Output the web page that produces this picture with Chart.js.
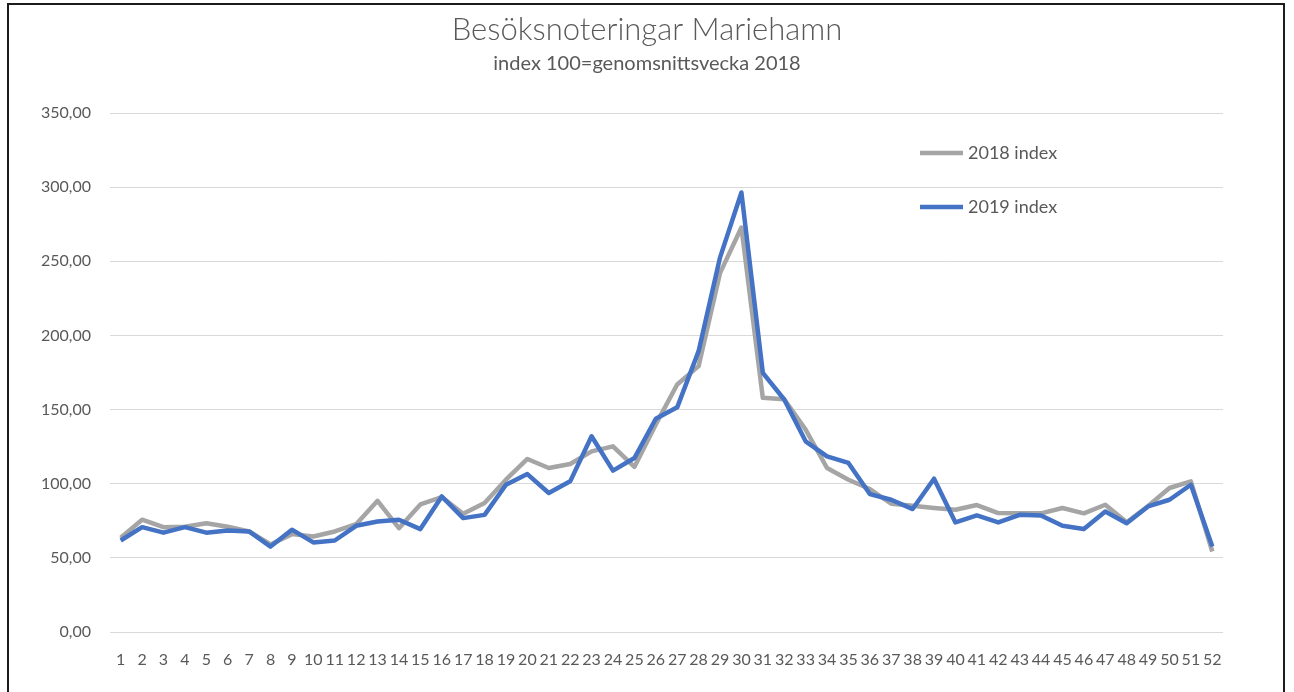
<!DOCTYPE html>
<html>
<head>
<meta charset="utf-8">
<script src="https://cdn.jsdelivr.net/npm/chart.js@4.4.1/dist/chart.umd.min.js"></script>
<style>
  html, body { margin: 0; padding: 0; background: #fff; }
  #wrap { position: relative; width: 1294px; height: 692px; overflow: hidden; }
  #frame { position: absolute; left: 7px; top: 3px; width: 1278px; height: 720px; border: 2px solid #1c1c1c; box-sizing: border-box; pointer-events: none; }
  canvas { position: absolute; left: 0; top: 0; }
</style>
</head>
<body>
<div id="wrap">
  <canvas id="c" width="1294" height="692"></canvas>
  <div id="frame"></div>
</div>
<script>
const chartTitle = "Besöksnoteringar Mariehamn";
const chartSubtitle = "index 100=genomsnittsvecka 2018";
const weeks = ["1","2","3","4","5","6","7","8","9","10","11","12","13","14","15","16","17","18","19","20","21","22","23","24","25","26","27","28","29","30","31","32","33","34","35","36","37","38","39","40","41","42","43","44","45","46","47","48","49","50","51","52"];
const seriesNames = ["2018 index", "2019 index"];
const index2018 = [63.5, 75.7, 70.7, 71, 73.4, 71, 67.8, 59, 66, 64.4, 67.8, 72.7, 88.5, 70, 86, 91, 79.7, 87, 102.7, 116.7, 110.6, 113.3, 121.8, 125.2, 111.3, 140, 166.9, 179.3, 242, 272.8, 157.9, 157, 136.5, 110.6, 102.7, 96.4, 86.5, 85.1, 83.6, 82.4, 85.6, 80.2, 80, 80, 83.6, 80, 85.8, 74, 85, 97.1, 101.6, 54.3];
const index2019 = [61.7, 70.7, 67, 70.7, 67, 68.5, 67.8, 57.6, 69, 60.4, 61.7, 71.6, 74.5, 75.7, 69.4, 91.4, 76.8, 79, 99.3, 106.5, 93.7, 101.6, 132, 108.8, 117.3, 143.8, 151.5, 189.4, 252.5, 296.4, 174.8, 156.8, 128.6, 118.4, 114, 93, 89.2, 82.9, 103.4, 73.9, 78.6, 73.9, 79, 78.6, 71.6, 69.4, 81.3, 73.4, 84.7, 89.2, 99.3, 57.6];
const yMin = 0, yMax = 350, yStep = 50;

const TEXT = '#595959';
const colors = ['#A5A5A5', '#4472C4'];

const legendPlugin = {
  id: 'insideLegend',
  afterDraw(chart) {
    const ctx = chart.ctx;
    const a = chart.chartArea;
    ctx.save();
    ctx.font = '18px Lato';
    ctx.textBaseline = 'middle';
    ctx.textAlign = 'left';
    chart.data.datasets.forEach((ds, i) => {
      const y = a.top + 40 + i * 54;
      const x = a.left + 810;
      ctx.strokeStyle = ds.borderColor;
      ctx.lineWidth = 4.5;
      ctx.lineCap = 'butt';
      ctx.beginPath();
      ctx.moveTo(x, y);
      ctx.lineTo(x + 43, y);
      ctx.stroke();
      ctx.fillStyle = TEXT;
      ctx.fillText(ds.label, x + 48, y);
    });
    ctx.restore();
  }
};

function build() {
  Chart.defaults.font.family = 'Lato';
  Chart.defaults.color = TEXT;
  new Chart(document.getElementById('c'), {
    type: 'line',
    data: {
      labels: weeks,
      datasets: [
        { label: seriesNames[0], data: index2018, borderColor: colors[0], backgroundColor: colors[0], borderWidth: 4.5, pointRadius: 0, tension: 0, order: 1, borderJoinStyle: 'round' },
        { label: seriesNames[1], data: index2019, borderColor: colors[1], backgroundColor: colors[1], borderWidth: 4.5, pointRadius: 0, tension: 0, order: 0, borderJoinStyle: 'round' }
      ]
    },
    options: {
      responsive: false,
      animation: false,
      layout: { padding: { left: 0, right: 0, top: 0, bottom: 0 } },
      plugins: {
        legend: { display: false },
        tooltip: { enabled: false },
        title: {
          display: true, text: chartTitle, color: TEXT,
          font: { size: 31, weight: '300', family: 'Lato' },
          padding: { top: 11, bottom: 2 }
        },
        subtitle: {
          display: true, text: chartSubtitle, color: TEXT,
          font: { size: 20, weight: 'normal', family: 'Lato' },
          padding: { top: 1, bottom: 37.8 }
        }
      },
      scales: {
        x: {
          offset: true,
          grid: { display: false, drawTicks: false, offset: true },
          border: { display: false },
          ticks: { autoSkip: false, maxRotation: 0, minRotation: 0, padding: 18, color: TEXT, font: { size: 16 } },
          afterFit: s => { s.height = 60; }
        },
        y: {
          min: yMin, max: yMax,
          grid: { color: '#D9D9D9', lineWidth: 1, drawTicks: false },
          border: { display: false },
          ticks: { stepSize: yStep, padding: 19, color: TEXT, font: { size: 16 },
                   callback: v => v.toFixed(2).replace('.', ',') },
          afterFit: s => { s.width = 110; }
        },
        yRight: {
          position: 'right', display: true,
          grid: { display: false, drawTicks: false },
          border: { display: false },
          ticks: { display: false },
          afterFit: s => { s.width = 71; }
        }
      }
    },
    plugins: [legendPlugin]
  });
}

if (document.fonts && document.fonts.load) {
  Promise.all([document.fonts.load('16px Lato'), document.fonts.load('300 31px Lato')]).then(build, build);
} else { build(); }
</script>
</body>
</html>
